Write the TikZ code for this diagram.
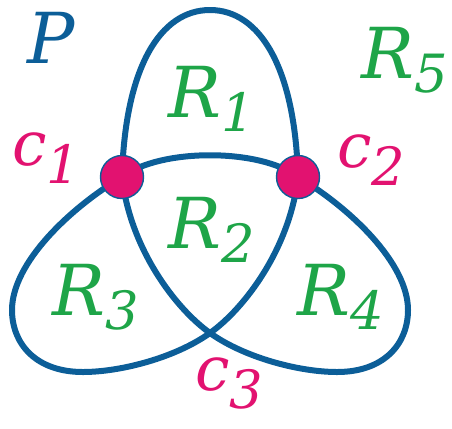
\documentclass[tikz,border=0pt]{standalone}
\usepackage{fontspec}
\newfontfamily\labfont{DejaVu Serif}
\usetikzlibrary{positioning}

\definecolor{loopblue}{RGB}{12,94,152}
\definecolor{regiongreen}{RGB}{30,165,72}
\definecolor{crosspink}{RGB}{226,18,112}
\newcommand{\sublbl}[3][0.2em]{#2\raisebox{-#1}{\fontsize{30}{30}\selectfont#3}}

\begin{document}
\begin{tikzpicture}[
  curve/.style={draw=loopblue, line width=0.12cm, line join=round},
  dot/.style={circle, fill=crosspink, draw=loopblue, line width=0.8pt,
              minimum size=0.86cm, inner sep=0pt},
  region/.style={text=regiongreen, anchor=base west, inner sep=0pt,
                 font=\labfont\itshape\fontsize{40}{40}\selectfont},
  cross/.style={text=crosspink, anchor=base west, inner sep=0pt,
                font=\labfont\itshape\fontsize{35}{35}\selectfont}]

  \useasboundingbox (0,0) rectangle (9.04,8.56);

  % puntos de cruce
  \coordinate (k1) at (2.44,5.02);
  \coordinate (k2) at (5.96,5.02);
  \coordinate (k3) at (4.2,1.9);

  % curva cerrada
  \draw[curve] (k1) .. controls (2.5,7.2) and (3.2,8.36) .. (4.2,8.36)
    .. controls (5.2,8.36) and (5.9,7.2) .. (k2)
    .. controls (5.8,3.6) and (4.9,2.4) .. (k3)
    .. controls (3.5,1.4) and (2.4,1.12) .. (1.66,1.12)
    .. controls (0.7,1.12) and (0.24,1.7) .. (0.24,2.36)
    .. controls (0.24,3.3) and (1.4,4.4) .. (k1)
    .. controls (3.2,5.6) and (5.2,5.6) .. (k2)
    .. controls (7.0,4.4) and (8.16,3.3) .. (8.16,2.36)
    .. controls (8.16,1.7) and (7.7,1.12) .. (6.74,1.12)
    .. controls (6.0,1.12) and (4.9,1.4) .. (k3)
    .. controls (3.5,2.4) and (2.6,3.6) .. (k1);

  % vertices
  \node[dot] (c1) at (k1) {};
  \node[dot] (c2) at (k2) {};

  % etiquetas
  \node[anchor=base west, inner sep=0pt, text=loopblue,
        font=\labfont\itshape\fontsize{40}{40}\selectfont] (plbl) at (0.54,7.3) {P};
  \node[region] (r1) at (3.36,6.22) {\sublbl{R}{1}};
  \node[region] (r2) at (3.36,3.6)  {\sublbl{R}{2}};
  \node[region] (r3) at (1.04,2.26) {\sublbl{R}{3}};
  \node[region] (r4) at (5.94,2.26) {\sublbl{R}{4}};
  \node[region] (r5) at (7.22,7.0)  {\sublbl{R}{5}};
  \node[cross] (lc1) at (0.24,5.26) {\sublbl[0.3em]{c}{1}};
  \node[cross] (lc2) at (6.74,5.22) {\sublbl[0.3em]{c}{2}};
  \node[cross] (lc3) at (3.9,0.75)  {\sublbl[0.3em]{c}{3}};
\end{tikzpicture}
\end{document}
